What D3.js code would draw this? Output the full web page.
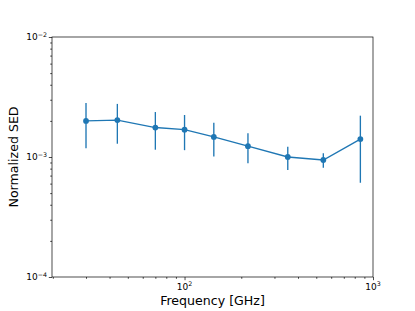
<!DOCTYPE html>
<html>
<head>
<meta charset="utf-8">
<script src="https://cdn.jsdelivr.net/npm/d3@7"></script>
<style>
  body { margin: 0; background: #fff; }
  text { font-family: "DejaVu Sans", sans-serif; }
</style>
</head>
<body>
<div id="chart"></div>
<script>
// planck bands and the normalized SED
var freqs = [30, 44, 70, 100, 143, 217, 353, 545, 857];
var sed = [2.0e-3, 2.03e-3, 1.76e-3, 1.69e-3, 1.47e-3, 1.23e-3, 1.0e-3, 0.944e-3, 1.41e-3];
var sedErr = [0.82e-3, 0.74e-3, 0.61e-3, 0.55e-3, 0.46e-3, 0.345e-3, 0.22e-3, 0.13e-3, 0.8e-3];
var xMajor = [100, 1000];
var xMajorLabels = ["2", "3"];
var yMajor = [1e-4, 1e-3, 1e-2];
var yMajorLabels = ["\u22124", "\u22123", "\u22122"];

var width = 415, height = 311;
var margin = { top: 37, right: 42, bottom: 34, left: 52 };
var color = '#1f77b4';

var svg = d3.select('#chart').append('svg')
  .attr('width', width)
  .attr('height', height);

var x = d3.scaleLog()
  .domain([19.8, 1000])
  .range([margin.left, width - margin.right]);

var y = d3.scaleLog()
  .domain([1e-4, 1e-2])
  .range([height - margin.bottom, margin.top]);

var xMinor = [], yMinor = [];
[10, 100].forEach(b => { for (var i = 2; i < 10; i++) if (b * i >= 19.8) xMinor.push(b * i); });
[1e-4, 1e-3].forEach(b => { for (var i = 2; i < 10; i++) yMinor.push(b * i); });

var xAxis = g => g
  .attr('transform', `translate(0,${height - margin.bottom})`)
  .call(d3.axisBottom(x).tickValues(xMajor).tickSize(3.2).tickPadding(2).tickFormat(() => ''))
  .call(g => g.select('.domain').remove());
var xAxisMinor = g => g
  .attr('transform', `translate(0,${height - margin.bottom})`)
  .call(d3.axisBottom(x).tickValues(xMinor).tickSize(1.8).tickFormat(() => ''))
  .call(g => g.select('.domain').remove());
var yAxis = g => g
  .attr('transform', `translate(${margin.left},0)`)
  .call(d3.axisLeft(y).tickValues(yMajor).tickSize(3.2).tickFormat(() => ''))
  .call(g => g.select('.domain').remove());
var yAxisMinor = g => g
  .attr('transform', `translate(${margin.left},0)`)
  .call(d3.axisLeft(y).tickValues(yMinor).tickSize(1.8).tickFormat(() => ''))
  .call(g => g.select('.domain').remove());

svg.append('g').call(xAxis);
svg.append('g').call(xAxisMinor);
svg.append('g').call(yAxis);
svg.append('g').call(yAxisMinor);
svg.selectAll('.tick line').attr('stroke', '#000').attr('stroke-width', 0.7);

// tick labels as 10^n
xMajor.forEach((v, i) => {
  var t = svg.append('text')
    .attr('x', x(v))
    .attr('y', height - margin.bottom + 12.5)
    .attr('text-anchor', 'middle')
    .attr('font-size', 9);
  t.append('tspan').text('10');
  t.append('tspan').attr('dy', -3.5).attr('font-size', 6.3).text(xMajorLabels[i]);
});
yMajor.forEach((v, i) => {
  var t = svg.append('text')
    .attr('x', margin.left - 5)
    .attr('y', y(v) + 3)
    .attr('text-anchor', 'end')
    .attr('font-size', 9);
  t.append('tspan').text('10');
  t.append('tspan').attr('dy', -3.5).attr('font-size', 6.3).text(yMajorLabels[i]);
});

// error bars
svg.append('g').selectAll('line')
  .data(freqs)
  .enter().append('line')
  .attr('x1', d => x(d))
  .attr('x2', d => x(d))
  .attr('y1', (d, i) => y(sed[i] + sedErr[i]))
  .attr('y2', (d, i) => y(sed[i] - sedErr[i]))
  .attr('stroke', color)
  .attr('stroke-width', 1.35);

var line = d3.line()
  .x(d => x(d[0]))
  .y(d => y(d[1]));

svg.append('path')
  .datum(freqs.map((f, i) => [f, sed[i]]))
  .attr('d', line)
  .attr('fill', 'none')
  .attr('stroke', color)
  .attr('stroke-width', 1.35);

svg.append('g').selectAll('circle')
  .data(freqs)
  .enter().append('circle')
  .attr('cx', d => x(d))
  .attr('cy', (d, i) => y(sed[i]))
  .attr('r', 2.9)
  .attr('fill', color);

// frame
svg.append('rect')
  .attr('x', margin.left)
  .attr('y', margin.top)
  .attr('width', width - margin.left - margin.right)
  .attr('height', height - margin.top - margin.bottom)
  .attr('fill', 'none')
  .attr('stroke', '#000')
  .attr('stroke-width', 0.7);

svg.append('text')
  .attr('x', (margin.left + width - margin.right) / 2)
  .attr('y', 305)
  .attr('text-anchor', 'middle')
  .attr('font-size', 12.6)
  .text('Frequency [GHz]');

svg.append('text')
  .attr('transform', `translate(18,${(margin.top + height - margin.bottom) / 2}) rotate(-90)`)
  .attr('text-anchor', 'middle')
  .attr('font-size', 12.6)
  .text('Normalized SED');
</script>
</body>
</html>
